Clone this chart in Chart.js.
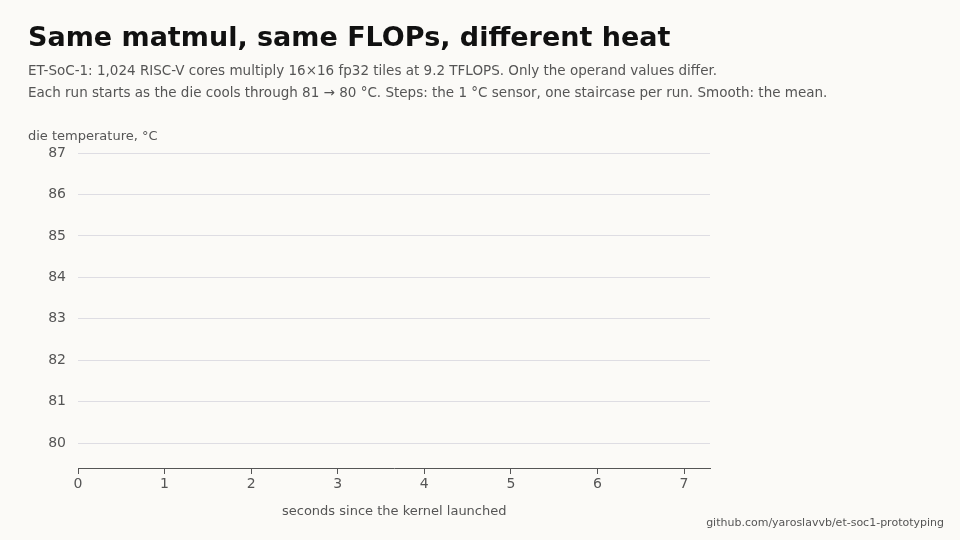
<!DOCTYPE html>
<html><head><meta charset="utf-8">
<script src="https://cdn.jsdelivr.net/npm/chart.js@4"></script>
<style>
body{margin:0;background:#fbfaf7;font-family:"DejaVu Sans",sans-serif;}
#wrap{position:relative;width:960px;height:540px;}
canvas{position:absolute;left:0;top:0;}
.t{position:absolute;white-space:nowrap;}
</style></head><body>
<div id="wrap">
<canvas id="c" width="960" height="540"></canvas>
<div class="t" style="left:28px;top:21px;font-size:27px;font-weight:bold;color:#111">Same matmul, same FLOPs, different heat</div>
<div class="t" style="left:28px;top:62px;font-size:13.5px;color:#555">ET-SoC-1: 1,024 RISC-V cores multiply 16×16 fp32 tiles at 9.2 TFLOPS. Only the operand values differ.</div>
<div class="t" style="left:28px;top:84px;font-size:13.5px;color:#555">Each run starts as the die cools through 81 → 80 °C. Steps: the 1 °C sensor, one staircase per run. Smooth: the mean.</div>
<div class="t" style="left:28px;top:128px;font-size:13px;color:#555">die temperature, °C</div>
<div class="t" style="left:282px;top:503px;font-size:13px;color:#555">seconds since the kernel launched</div>
<div class="t" style="right:16px;top:516px;font-size:11px;color:#555">github.com/yaroslavvb/et-soc1-prototyping</div>
</div>
<script>
const xTicks=[0,1,2,3,4,5,6,7];
const yTicks=[80,81,82,83,84,85,86,87];
const stepsSeries=[];
const meanSeries=[];
new Chart(document.getElementById('c'),{
 type:'line',
 data:{datasets:[
  {label:'steps',data:stepsSeries,borderColor:'#999',stepped:true,pointRadius:0},
  {label:'mean',data:meanSeries,borderColor:'#333',pointRadius:0}
 ]},
 options:{responsive:false,animation:false,
  layout:{padding:{left:0,right:250,top:153,bottom:0}},
  plugins:{legend:{display:false},tooltip:{enabled:false}},
  scales:{
   x:{type:'linear',min:0,max:7.3,
     afterBuildTicks:s=>{s.ticks=xTicks.map(v=>({value:v}));},
     afterFit:s=>{s.height=72;},
     grid:{drawOnChartArea:false,tickLength:6,color:'#555'},
     border:{color:'#555'},
     ticks:{color:'#555',font:{family:'DejaVu Sans',size:14},padding:2}},
   y:{min:79.4,max:87,
     afterBuildTicks:s=>{s.ticks=yTicks.map(v=>({value:v}));},
     afterFit:s=>{s.width=78;},
     grid:{color:'#dedde3',drawTicks:false},
     border:{display:false},
     ticks:{color:'#555',font:{family:'DejaVu Sans',size:14},padding:12}}
  }}
});
</script>
</body></html>
